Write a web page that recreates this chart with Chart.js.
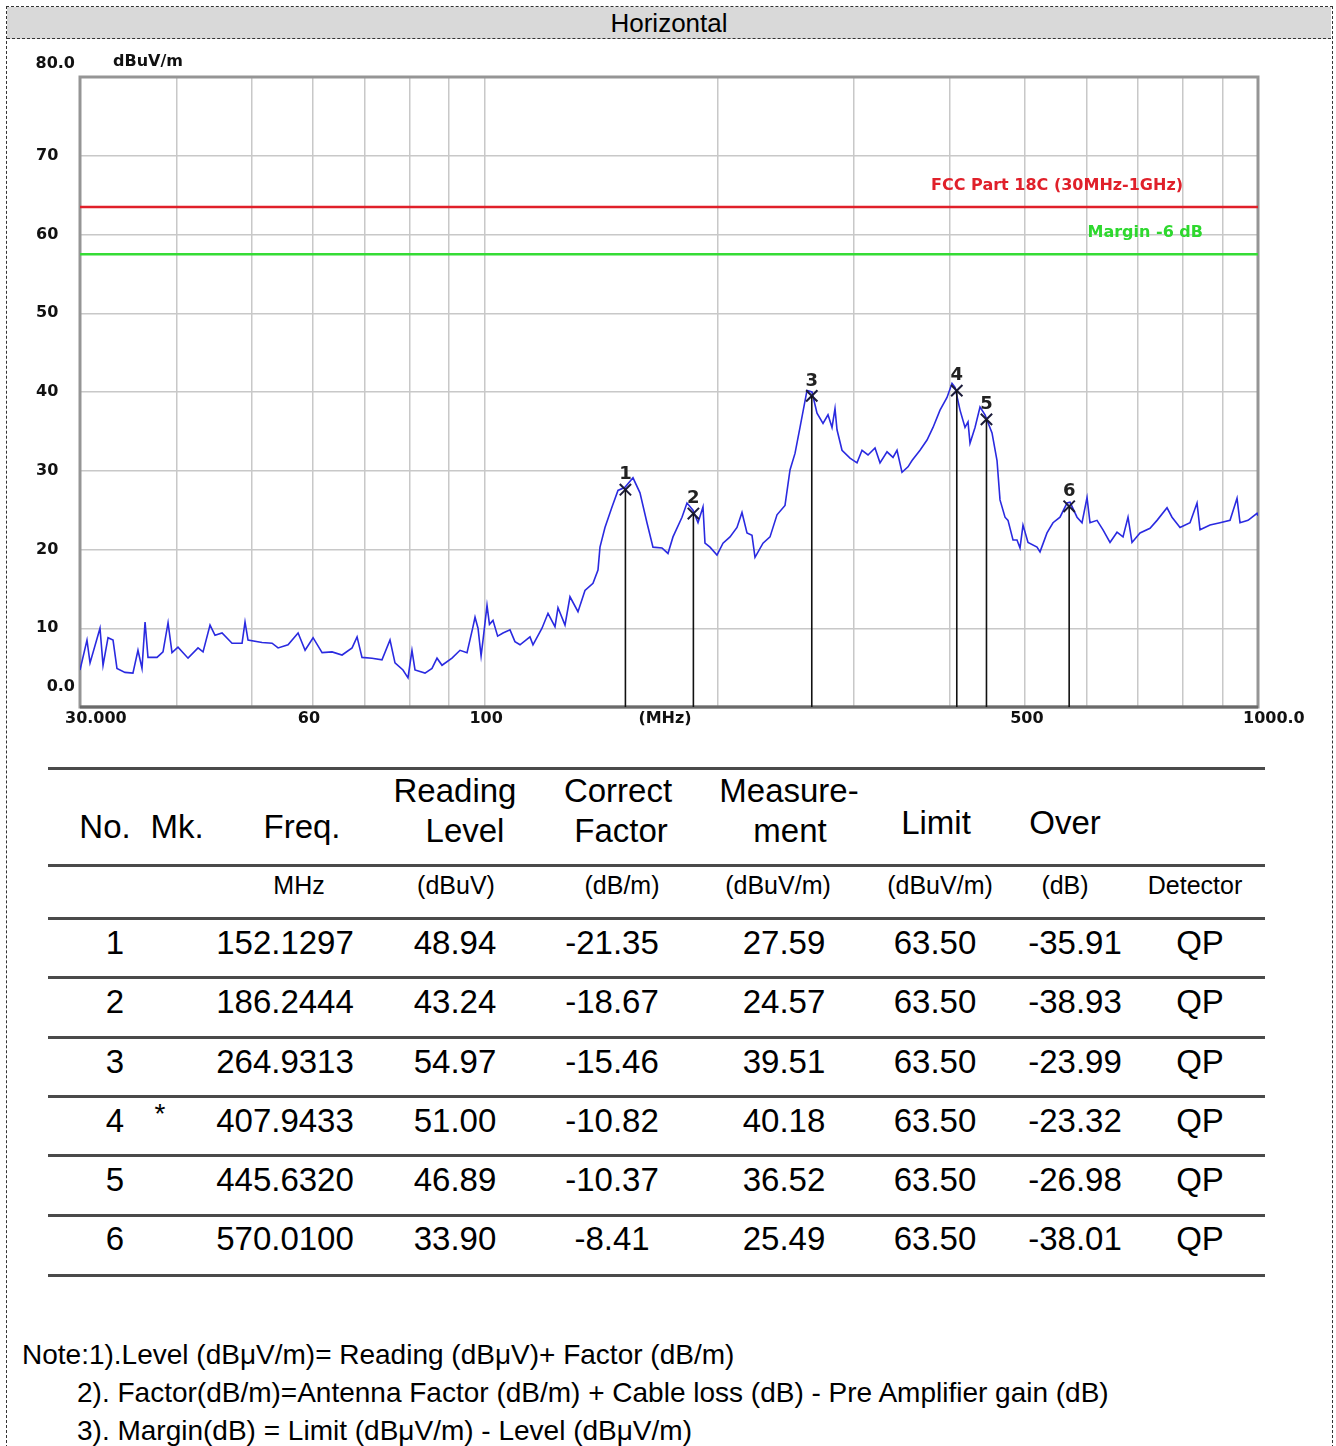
<!DOCTYPE html>
<html lang="en">
<head>
<meta charset="UTF-8">
<title>Horizontal - Radiated Emission 30MHz-1GHz</title>
<script src="https://cdn.jsdelivr.net/npm/chart.js"></script>
<style>
  body { margin: 0; background: #fff; color: #000; font-family: "Liberation Sans", Arial, sans-serif }
  #page { position: relative; width: 1336px; height: 1446px; overflow: hidden }
  #frame { position: absolute; left: 6px; top: 6px; width: 1325px; height: 1460px; border: 1px dashed #333 }
  #title { position: absolute; left: 7px; top: 7px; width: 1324px; height: 31px; background: #d9d9d9;
           border-bottom: 1px dashed #333; text-align: center; font-size: 26px; line-height: 33px }
  #chartBox { position: absolute; left: 0; top: 40px; width: 1336px; height: 700px }
  .rule { position: absolute; left: 48px; width: 1217px; height: 3px; background: #4a4a4a }
  .t { position: absolute; white-space: nowrap; transform: translate(-50%, -50%); line-height: 1 }
  .note { position: absolute; white-space: nowrap; transform: translateY(-50%); font-size: 28px; line-height: 1 }
</style>
</head>
<body>
<div id="page">
  <div id="frame"></div>
  <div id="title">Horizontal</div>
  <div id="chartBox"><canvas id="emiChart"></canvas></div>
  <div id="table"></div>
  <div class="note" style="left:22px; top:1355px">Note:1).Level (dBμV/m)= Reading (dBμV)+ Factor (dB/m)</div>
  <div class="note" style="left:77px; top:1393px">2). Factor(dB/m)=Antenna Factor (dB/m) + Cable loss (dB) - Pre Amplifier gain (dB)</div>
  <div class="note" style="left:77px; top:1431px">3). Margin(dB) = Limit (dBμV/m) - Level (dBμV/m)</div>
</div>

<script>
// scan trace (MHz, dBuV/m)
const traceFreq = [30.00, 30.63, 30.91, 31.84, 32.13, 32.61, 33.10, 33.49, 34.30, 35.12,
  35.65, 36.08, 36.41, 36.73, 37.73, 38.41, 38.99, 39.45, 40.16, 41.38,
  42.63, 43.27, 44.18, 44.84, 45.79, 47.17, 48.60, 49.03, 49.47, 51.58,
  53.14, 54.10, 55.73, 57.42, 58.63, 60.04, 61.67, 63.53, 65.45, 67.43,
  68.44, 69.45, 71.55, 73.71, 75.49, 76.62, 78.46, 79.64, 80.59, 81.32,
  83.78, 85.54, 86.83, 88.13, 90.79, 92.98, 94.94, 96.65, 97.23, 98.10,
  99.00, 99.57, 100.76, 101.50, 102.57, 104.00, 105.67, 107.90, 109.50, 111.16,
  114.51, 115.54, 118.68, 120.82, 123.36, 124.47, 127.09, 128.99, 132.10, 134.88,
  138.13, 140.20, 141.04, 143.15, 146.17, 148.80, 151.93, 155.60, 158.87, 162.21,
  165.14, 169.62, 172.68, 175.27, 180.03, 182.73, 186.03, 188.82, 191.65, 192.79,
  195.69, 199.81, 203.41, 207.69, 212.06, 215.24, 218.47, 221.75, 223.74, 229.13,
  233.96, 238.88, 244.64, 248.31, 252.03, 255.81, 261.20, 265.11, 269.09, 273.94,
  278.05, 281.38, 283.90, 285.60, 289.89, 296.87, 303.12, 307.67, 313.21, 319.81,
  324.60, 331.44, 337.41, 341.45, 346.57, 352.82, 357.05, 365.65, 373.35, 380.08,
  388.08, 396.25, 402.19, 405.80, 411.88, 418.06, 421.81, 424.33, 430.69, 437.15,
  443.70, 453.05, 459.84, 463.96, 470.92, 475.14, 482.27, 488.04, 492.42, 496.84,
  504.29, 517.98, 522.63, 533.63, 543.25, 554.69, 566.37, 571.46, 583.49, 592.24,
  601.12, 606.51, 619.28, 630.44, 643.71, 657.27, 669.12, 679.15, 687.29, 703.86,
  725.12, 740.39, 762.76, 774.20, 792.86, 816.82, 834.02, 841.50, 866.93, 893.13,
  920.11, 939.49, 947.91, 970.76, 997.13, 1000.00]
const traceLevel = [4.7, 8.5, 5.6, 10.0, 5.3, 8.8, 8.5, 4.9, 4.4, 4.3,
  7.2, 4.9, 10.8, 6.3, 6.3, 7.0, 10.7, 6.9, 7.6, 6.2,
  7.5, 7.0, 10.4, 9.1, 9.4, 8.1, 8.1, 10.8, 8.5, 8.2,
  8.1, 7.5, 7.9, 9.4, 7.2, 8.8, 6.9, 7.0, 6.6, 7.5,
  8.9, 6.3, 6.2, 6.0, 8.5, 5.6, 4.7, 3.7, 7.2, 4.7,
  4.3, 4.9, 6.2, 5.3, 6.2, 7.2, 6.9, 10.2, 11.4, 10.0,
  6.5, 8.5, 12.9, 10.5, 11.0, 9.0, 9.4, 9.8, 8.3, 7.9,
  8.9, 7.9, 10.0, 11.9, 10.2, 12.6, 10.4, 14.0, 12.1, 14.8,
  15.7, 17.4, 20.3, 22.8, 25.4, 27.5, 27.9, 29.1, 27.2, 23.4,
  20.3, 20.2, 19.5, 21.6, 24.1, 25.9, 25.0, 23.4, 25.4, 20.8,
  20.3, 19.3, 20.8, 21.6, 22.8, 24.7, 22.1, 21.8, 19.0, 20.8,
  21.6, 24.4, 25.6, 30.1, 32.2, 35.5, 40.2, 40.0, 37.3, 36.0,
  37.1, 35.5, 37.9, 35.2, 32.6, 31.6, 31.0, 32.6, 32.0, 32.9,
  31.0, 32.4, 31.7, 32.6, 29.8, 30.5, 31.3, 32.6, 33.9, 35.5,
  37.7, 39.3, 41.1, 40.6, 37.7, 35.5, 36.2, 33.5, 35.5, 38.1,
  37.1, 34.8, 31.3, 26.3, 24.1, 23.7, 21.2, 21.2, 20.2, 23.1,
  20.9, 20.3, 19.7, 22.1, 23.4, 24.1, 25.9, 26.0, 24.1, 23.4,
  26.6, 23.4, 23.7, 22.5, 20.9, 22.2, 21.6, 24.1, 20.9, 22.1,
  22.7, 23.7, 25.3, 24.1, 22.8, 23.4, 25.9, 22.5, 23.1, 23.4,
  23.7, 26.5, 23.4, 23.7, 24.6, 24.3]

// limit lines
const limitDb = 63.5
const marginDb = 57.5

// marker table
const markerNo = [1, 2, 3, 4, 5, 6]
const markerMk = ['', '', '', '*', '', '']
const markerFreq = [152.1297, 186.2444, 264.9313, 407.9433, 445.6320, 570.0100]
const readingLevel = [48.94, 43.24, 54.97, 51.00, 46.89, 33.90]
const correctFactor = [-21.35, -18.67, -15.46, -10.82, -10.37, -8.41]
const measurement = [27.59, 24.57, 39.51, 40.18, 36.52, 25.49]
const limitCol = [63.50, 63.50, 63.50, 63.50, 63.50, 63.50]
const overMargin = [-35.91, -38.93, -23.99, -23.32, -26.98, -38.01]
const detector = ['QP', 'QP', 'QP', 'QP', 'QP', 'QP']

// axes
const xGrid = [30, 40, 50, 60, 70, 80, 90, 100, 200, 300, 400, 500, 600, 700, 800, 900, 1000]
const xTickValues = [30, 60, 100, 500, 1000]
const xTickLabels = ['30.000', '60', '100', '500', '1000.0']
const yTickValues = [80, 70, 60, 50, 40, 30, 20, 10, 0]
const yTickLabels = ['80.0', '70', '60', '50', '40', '30', '20', '10', '0.0']

const axisFont = 'bold 16px "DejaVu Sans", sans-serif'

// extra drawing: frame, labels, marker drop lines
const decor = {
  id: 'decor',
  beforeDatasetsDraw(chart) {
    let {ctx, chartArea: a} = chart
    ctx.save()
    ctx.strokeStyle = '#959595'
    ctx.lineWidth = 3
    ctx.strokeRect(a.left, a.top, a.right - a.left, a.bottom - a.top)
    ctx.strokeStyle = '#6a6a6a'
    ctx.beginPath(); ctx.moveTo(a.left, a.bottom); ctx.lineTo(a.right, a.bottom); ctx.stroke()
    ctx.restore()
  },
  afterDatasetsDraw(chart) {
    let {ctx, chartArea: a, scales: {x, y}} = chart
    ctx.save()
    ctx.strokeStyle = '#111'
    ctx.lineWidth = 1.6
    ctx.fillStyle = '#222'
    ctx.font = 'bold 18px "DejaVu Sans", sans-serif'
    ctx.textAlign = 'center'
    ctx.textBaseline = 'middle'
    markerFreq.forEach((f, i) => {
      let px = x.getPixelForValue(f), py = y.getPixelForValue(measurement[i])
      ctx.beginPath(); ctx.moveTo(px, py); ctx.lineTo(px, a.bottom); ctx.stroke()
      ctx.fillText(String(markerNo[i]), px, py - 15)
    })
    // limit labels
    ctx.textAlign = 'right'
    ctx.font = axisFont
    ctx.fillStyle = '#e0202a'
    ctx.fillText('FCC Part 18C (30MHz-1GHz)', a.right - 75, y.getPixelForValue(limitDb) - 21)
    ctx.fillStyle = '#2ed82e'
    ctx.fillText('Margin -6 dB', a.right - 55, y.getPixelForValue(marginDb) - 21)
    ctx.restore()
  },
  afterDraw(chart) {
    let {ctx, chartArea: a, scales: {x, y}} = chart
    ctx.save()
    ctx.font = axisFont
    ctx.fillStyle = '#111'
    ctx.textBaseline = 'middle'
    yTickValues.forEach((v, i) => {
      let py = y.getPixelForValue(v)
      let lab = yTickLabels[i]
      if (v === 80) py -= 13
      if (v === 0) py -= 20
      // decimals sit right-aligned against the axis, integers start further left
      if (lab.includes('.')) { ctx.textAlign = 'right'; ctx.fillText(lab, a.left - 5, py) }
      else { ctx.textAlign = 'left'; ctx.fillText(lab, a.left - 44, py) }
    })
    ctx.textAlign = 'left'
    ctx.fillText('dBuV/m', a.left + 33, a.top - 15)
    xTickValues.forEach((v, i) => {
      ctx.fillText(xTickLabels[i], x.getPixelForValue(v) - 15, a.bottom + 12)
    })
    ctx.textAlign = 'center'
    ctx.fillText('(MHz)', (a.left + a.right) / 2 - 4, a.bottom + 12)
    ctx.restore()
  }
}

let ctx = document.getElementById('emiChart').getContext('2d')
let emiChart = new Chart(ctx, {
  type: 'line',
  data: {
    datasets: [
      {
        label: 'markers',
        data: markerFreq.map((f, i) => ({x: f, y: measurement[i]})),
        showLine: false,
        pointStyle: 'crossRot',
        pointRadius: 8,
        pointBorderWidth: 2,
        pointBorderColor: '#1c1c3a',
        order: 0
      },
      {
        label: 'Horizontal',
        data: traceFreq.map((f, i) => ({x: f, y: traceLevel[i]})),
        borderColor: '#2a2ae0',
        borderWidth: 1.6,
        pointRadius: 0,
        tension: 0,
        order: 1
      },
      {
        label: 'FCC Part 18C',
        data: [{x: 30, y: limitDb}, {x: 1000, y: limitDb}],
        borderColor: '#e0202a',
        borderWidth: 2.5,
        pointRadius: 0,
        order: 2
      },
      {
        label: 'Margin',
        data: [{x: 30, y: marginDb}, {x: 1000, y: marginDb}],
        borderColor: '#35dc35',
        borderWidth: 2.5,
        pointRadius: 0,
        order: 3
      }
    ]
  },
  options: {
    responsive: true,
    maintainAspectRatio: false,
    animation: false,
    layout: {padding: {left: 80, right: 78, top: 37, bottom: 33}},
    plugins: {legend: {display: false}, tooltip: {enabled: false}},
    scales: {
      x: {
        type: 'logarithmic', min: 30, max: 1000,
        afterBuildTicks: s => { s.ticks = xGrid.map(v => ({value: v})) },
        afterFit: s => { s.height = 0 },
        ticks: {display: false},
        grid: {color: '#c8c8c8', lineWidth: 1.5, drawTicks: false},
        border: {display: false}
      },
      y: {
        min: 0, max: 80,
        afterBuildTicks: s => { s.ticks = yTickValues.map(v => ({value: v})) },
        afterFit: s => { s.width = 0 },
        ticks: {display: false},
        grid: {color: '#c8c8c8', lineWidth: 1.5, drawTicks: false},
        border: {display: false}
      }
    }
  },
  plugins: [decor]
})

// ---- results table ----
let table = document.getElementById('table')
function put(txt, cx, cy, size) {
  let d = document.createElement('div')
  d.className = 't'
  d.textContent = txt
  d.style.left = cx + 'px'
  d.style.top = cy + 'px'
  d.style.fontSize = size + 'px'
  table.appendChild(d)
}
let ruleY = [768, 865, 918, 977, 1037, 1096, 1155, 1215, 1275]
for (let ry of ruleY) {
  let r = document.createElement('div')
  r.className = 'rule'
  r.style.top = (ry - 1) + 'px'
  table.appendChild(r)
}
// header
put('No.', 105, 826, 33); put('Mk.', 177, 826, 33); put('Freq.', 302, 826, 33)
put('Reading', 455, 790, 33); put('Level', 465, 830, 33)
put('Correct', 618, 790, 33); put('Factor', 621, 830, 33)
put('Measure-', 789, 790, 33); put('ment', 790, 830, 33)
put('Limit', 936, 822, 33); put('Over', 1065, 822, 33)
let unitX = [299, 456, 622, 778, 940, 1065, 1195]
let unitTxt = ['MHz', '(dBuV)', '(dB/m)', '(dBuV/m)', '(dBuV/m)', '(dB)', 'Detector']
unitTxt.forEach((u, i) => put(u, unitX[i], 885, 25))
// rows
let rowY = [942, 1001, 1061, 1120, 1179, 1238]
markerNo.forEach((n, i) => {
  let yy = rowY[i]
  put(String(n), 115, yy, 33)
  if (markerMk[i]) put(markerMk[i], 160, yy - 6, 28)
  put(markerFreq[i].toFixed(4), 285, yy, 33)
  put(readingLevel[i].toFixed(2), 455, yy, 33)
  put(correctFactor[i].toFixed(2), 612, yy, 33)
  put(measurement[i].toFixed(2), 784, yy, 33)
  put(limitCol[i].toFixed(2), 935, yy, 33)
  put(overMargin[i].toFixed(2), 1075, yy, 33)
  put(detector[i], 1200, yy, 33)
})
</script>
</body>
</html>
